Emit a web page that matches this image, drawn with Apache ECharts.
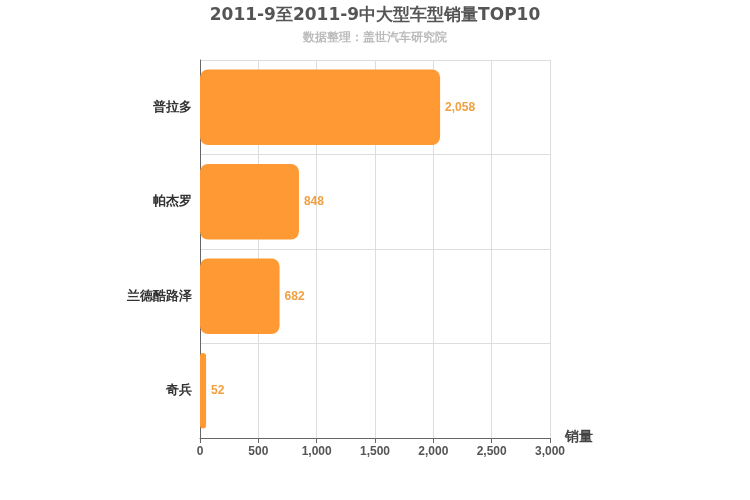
<!DOCTYPE html>
<html><head><meta charset="utf-8">
<script src="https://cdn.jsdelivr.net/npm/echarts@6/dist/echarts.min.js"></script>
<style>html,body{margin:0;padding:0;background:#fff}#c{width:750px;height:500px}</style>
</head><body><div id="c"></div>
<script>
var categories = ['普拉多','帕杰罗','兰德酷路泽','奇兵'];
var values = [2058, 848, 682, 52];
var chart = echarts.init(document.getElementById('c'));
chart.setOption({
  animation:false,
  title:{text:'2011-9至2011-9中大型车型销量TOP10',subtext:'数据整理：盖世汽车研究院',left:'center',top:2,
    textStyle:{fontSize:17,fontWeight:'bold',color:'#555',fontFamily:'DejaVu Sans'},
    subtextStyle:{fontSize:12,fontWeight:'bold',color:'#bbb'},itemGap:8},
  grid:{left:200,right:200,top:60,bottom:62},
  xAxis:{type:'value',min:0,max:3000,interval:500,name:'销量',nameGap:15,
    nameTextStyle:{fontSize:14,fontWeight:'bold',color:'#444',verticalAlign:'top',padding:[-8,0,0,0]},
    axisLine:{show:true,lineStyle:{color:'#666'}},axisTick:{show:true,lineStyle:{color:'#666'}},
    axisLabel:{color:'#555',fontSize:12,fontWeight:'bold'},
    splitLine:{lineStyle:{color:'#ddd'}}},
  yAxis:{type:'category',data:categories,inverse:true,
    axisLine:{lineStyle:{color:'#666'}},axisTick:{lineStyle:{color:'#666'}},
    axisLabel:{color:'#333',fontSize:13,fontWeight:'bold'},
    splitLine:{show:true,lineStyle:{color:'#ddd'}}},
  series:[{type:'bar',data:values,barWidth:'80%',
    itemStyle:{color:'#ff9933',borderRadius:8},
    label:{show:true,position:'right',color:'#f0a040',fontWeight:'bold',fontSize:12,
      formatter:function(p){return p.value.toLocaleString('en-US');}}}]
});
</script></body></html>
